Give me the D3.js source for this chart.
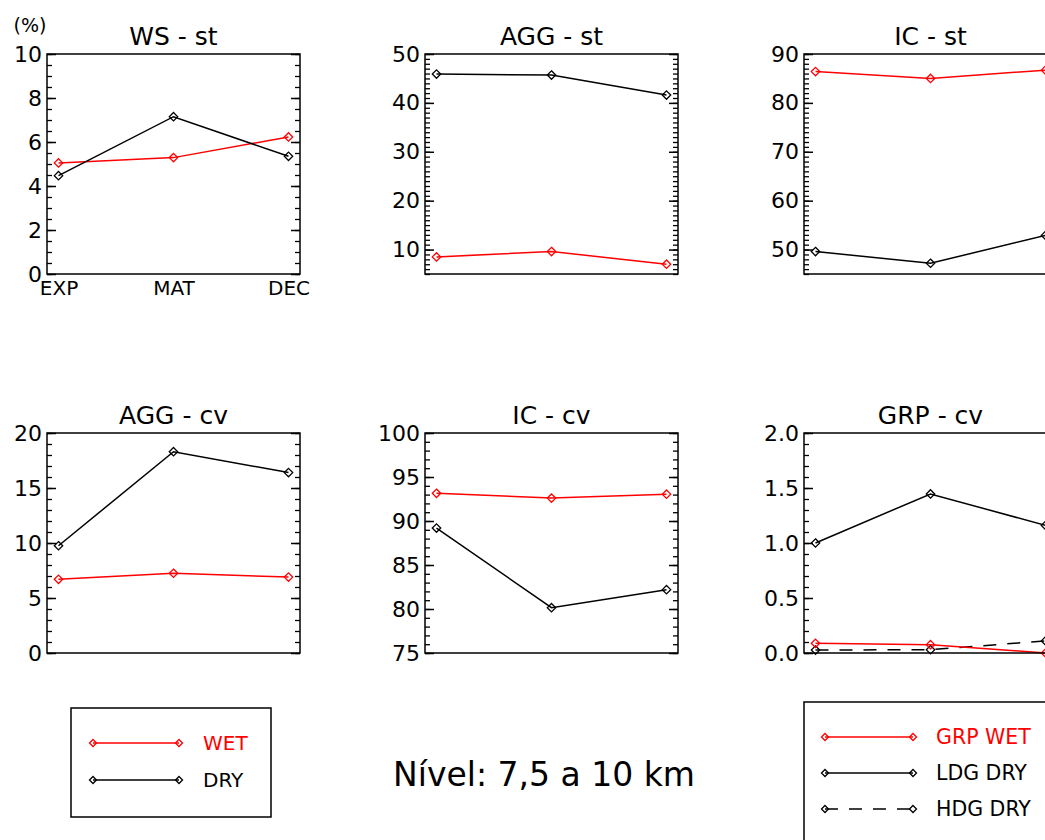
<!DOCTYPE html>
<html><head><meta charset="utf-8">
<script src="https://cdn.jsdelivr.net/npm/d3@7"></script>
<style>body{margin:0;background:#fff;}svg{display:block;font-family:"DejaVu Sans",sans-serif;}</style>
</head><body>
<svg id="c" width="1045" height="840"></svg>
<script>
const categories = ["EXP", "MAT", "DEC"];

const wsStWet = [5.05, 5.29, 6.23];
const wsStDry = [4.47, 7.15, 5.35];
const aggStWet = [8.5, 9.6, 7.0];
const aggStDry = [45.9, 45.7, 41.6];
const icStWet = [86.4, 85.0, 86.7];
const icStDry = [49.6, 47.2, 52.9];
const aggCvWet = [6.7, 7.25, 6.9];
const aggCvDry = [9.75, 18.3, 16.4];
const icCvWet = [93.15, 92.6, 93.05];
const icCvDry = [89.2, 80.15, 82.2];
const grpCvWet = [0.088, 0.076, 0.0];
const grpCvLdgDry = [1.0, 1.446, 1.16];
const grpCvHdgDry = [0.027, 0.03, 0.11];

const panelTitles = ["WS - st", "AGG - st", "IC - st", "AGG - cv", "IC - cv", "GRP - cv"];
const yDomains = [[0, 10], [5, 50], [45, 90], [0, 20], [75, 100], [0, 2]];
const yMajorTicks = [[0, 2, 4, 6, 8, 10], [10, 20, 30, 40, 50], [50, 60, 70, 80, 90], [0, 5, 10, 15, 20], [75, 80, 85, 90, 95, 100], [0, 0.5, 1.0, 1.5, 2.0]];
const yMinorStep = [0.5, 1, 1, 1, 1, 0.1];
const yFormats = ["d", "d", "d", "d", "d", ".1f"];
const legend1Labels = ["WET", "DRY"];
const legend2Labels = ["GRP WET", "LDG DRY", "HDG DRY"];
const footerText = "Nível: 7,5 a 10 km";
const unitText = "(%)";

const RED = "#ff0000", BLACK = "#000000";
const panelSeries = [
  [{v: wsStWet, c: RED}, {v: wsStDry, c: BLACK}],
  [{v: aggStWet, c: RED}, {v: aggStDry, c: BLACK}],
  [{v: icStWet, c: RED}, {v: icStDry, c: BLACK}],
  [{v: aggCvWet, c: RED}, {v: aggCvDry, c: BLACK}],
  [{v: icCvWet, c: RED}, {v: icCvDry, c: BLACK}],
  [{v: grpCvHdgDry, c: BLACK, dash: "13,11"}, {v: grpCvLdgDry, c: BLACK}, {v: grpCvWet, c: RED}]
];

const svg = d3.select("#c");
const colX = [47, 425, 804];
const rowY = [54, 433];
const W = 253, H = 220;

function diamond(g, x, y, color, r) {
  g.append("path")
    .attr("d", `M${x},${y - r}L${x + r},${y}L${x},${y + r}L${x - r},${y}Z`)
    .attr("fill", "none").attr("stroke", color).attr("stroke-width", 1.3);
}

panelTitles.forEach((title, i) => {
  const px = colX[i % 3], py = rowY[Math.floor(i / 3)];
  const g = svg.append("g").attr("transform", `translate(${px},${py})`);
  const x = d3.scaleLinear().domain([-0.1, 2.1]).range([0, W]);
  const y = d3.scaleLinear().domain(yDomains[i]).range([H, 0]);
  const [y0, y1] = yDomains[i];
  const minors = d3.range(Math.round((y1 - y0) / yMinorStep[i]) + 1).map(k => y0 + k * yMinorStep[i]);

  const leftMinor = d3.axisRight(y).tickValues(minors).tickSize(5).tickFormat("");
  const rightMinor = d3.axisLeft(y).tickValues(minors).tickSize(5).tickFormat("");
  g.append("g").call(leftMinor).call(s => s.select(".domain").remove()).selectAll("line").attr("stroke-width", 1.3);
  g.append("g").attr("transform", `translate(${W},0)`).call(rightMinor).call(s => s.select(".domain").remove()).selectAll("line").attr("stroke-width", 1.3);
  g.append("g").call(d3.axisRight(y).tickValues(yMajorTicks[i]).tickSize(9).tickFormat(""))
    .call(s => s.select(".domain").remove()).selectAll("line").attr("stroke-width", 1.5);
  g.append("g").attr("transform", `translate(${W},0)`).call(d3.axisLeft(y).tickValues(yMajorTicks[i]).tickSize(9).tickFormat(""))
    .call(s => s.select(".domain").remove()).selectAll("line").attr("stroke-width", 1.5);
  const lab = g.append("g").call(d3.axisLeft(y).tickValues(yMajorTicks[i]).tickSize(0).tickPadding(5).tickFormat(d3.format(yFormats[i])));
  lab.select(".domain").remove();
  lab.selectAll("text").attr("font-size", 22).attr("font-family", "DejaVu Sans").attr("fill", "#000");

  if (i === 0) {
    const xa = g.append("g").attr("transform", `translate(0,${H})`)
      .call(d3.axisBottom(x).tickValues([0, 1, 2]).tickSize(0).tickPadding(7).tickFormat(d => categories[d]));
    xa.select(".domain").remove();
    xa.selectAll("text").attr("font-size", 20).attr("font-family", "DejaVu Sans").attr("fill", "#000");
  }

  const line = d3.line().x((d, k) => x(k)).y(d => y(d));
  panelSeries[i].forEach(s => {
    g.append("path").datum(s.v).attr("d", line).attr("fill", "none")
      .attr("stroke", s.c).attr("stroke-width", 1.5).attr("stroke-dasharray", s.dash || null);
    s.v.forEach((d, k) => diamond(g, x(k), y(d), s.c, 4.2));
  });

  g.append("rect").attr("width", W).attr("height", H).attr("fill", "none").attr("stroke", "#000").attr("stroke-width", 1.5);

  g.append("text").attr("x", W / 2).attr("y", -9).attr("text-anchor", "middle")
    .attr("font-size", 25).text(title);
});

svg.append("text").attr("x", 30).attr("y", 32).attr("text-anchor", "middle").attr("font-size", 19).text(unitText);

const l1 = svg.append("g");
l1.append("rect").attr("x", 71).attr("y", 708).attr("width", 200).attr("height", 109).attr("fill", "none").attr("stroke", "#000").attr("stroke-width", 1.5);
[{c: RED}, {c: BLACK}].forEach((s, k) => {
  const yy = 743 + k * 37;
  l1.append("line").attr("x1", 93).attr("x2", 179).attr("y1", yy).attr("y2", yy).attr("stroke", s.c).attr("stroke-width", 1.5);
  diamond(l1, 93, yy, s.c, 3.5); diamond(l1, 179, yy, s.c, 3.5);
  l1.append("text").attr("x", 203).attr("y", yy + 7).attr("font-size", 20).attr("fill", s.c).text(legend1Labels[k]);
});

const l2 = svg.append("g");
l2.append("rect").attr("x", 804).attr("y", 702).attr("width", 300).attr("height", 200).attr("fill", "none").attr("stroke", "#000").attr("stroke-width", 1.5);
[{c: RED}, {c: BLACK}, {c: BLACK, dash: "13,11"}].forEach((s, k) => {
  const yy = 737 + k * 36;
  l2.append("line").attr("x1", 825).attr("x2", 913).attr("y1", yy).attr("y2", yy).attr("stroke", s.c).attr("stroke-width", 1.5).attr("stroke-dasharray", s.dash || null);
  diamond(l2, 825, yy, s.c, 3.5); diamond(l2, 913, yy, s.c, 3.5);
  l2.append("text").attr("x", 936).attr("y", yy + 7).attr("font-size", 20.5).attr("fill", s.c).text(legend2Labels[k]);
});

svg.append("text").attr("x", 544).attr("y", 786).attr("text-anchor", "middle").attr("font-size", 33).text(footerText);
</script>
</body></html>
